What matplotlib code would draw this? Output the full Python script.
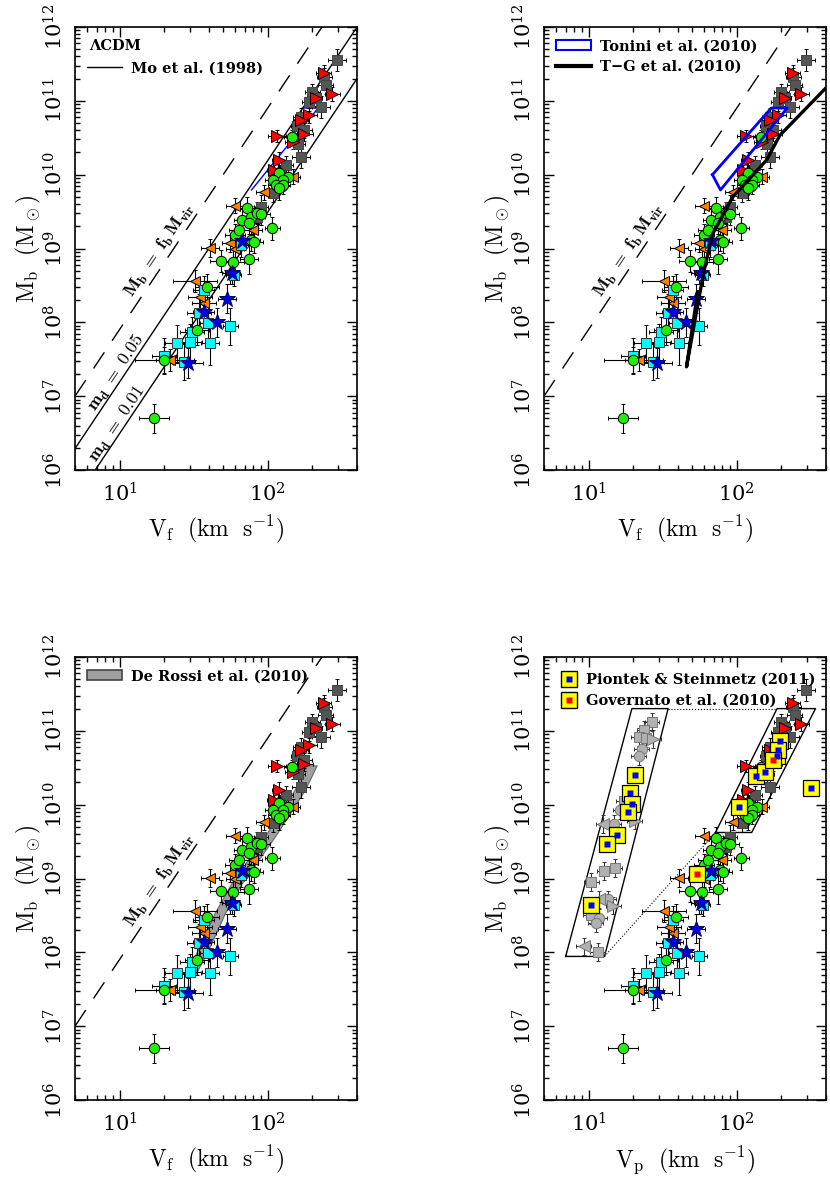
import numpy as np
import matplotlib.pyplot as plt
from matplotlib.lines import Line2D
from matplotlib.patches import Patch
from matplotlib.ticker import LogLocator, NullFormatter

plt.rcParams['mathtext.fontset'] = 'cm'
plt.rcParams['font.family'] = ['DejaVu Serif']

# observed galaxies (velocity in km/s, baryonic mass in Msun, errors in dex)
grey_v = [292, 240, 246, 200, 211, 190, 228, 167, 158, 176, 160, 167, 132, 108, 90, 85, 120]
grey_m = [3.6e11, 2.1e11, 1.64e11, 1.33e11, 1.08e11, 9.7e10, 8.3e10, 6.1e10, 4.5e10,
          4.0e10, 2.6e10, 1.75e10, 1.35e10, 5.6e9, 3.7e9, 2.7e9, 1.0e10]
grey_ev = [0.06, 0.05, 0.05, 0.05, 0.04, 0.05, 0.06, 0.05, 0.04, 0.05, 0.05, 0.06, 0.05, 0.05, 0.05, 0.05, 0.05]
grey_em = [0.15, 0.12, 0.12, 0.10, 0.10, 0.12, 0.15, 0.12, 0.10, 0.10, 0.12, 0.15, 0.12, 0.12, 0.15, 0.15, 0.12]

red_v = [238, 272, 211, 190, 167, 176, 116, 147, 119, 110]
red_m = [2.4e11, 1.24e11, 1.08e11, 6.4e10, 5.5e10, 3.6e10, 3.3e10, 2.8e10, 1.6e10, 1.15e10]
red_ev = [0.05, 0.05, 0.04, 0.05, 0.05, 0.06, 0.06, 0.05, 0.05, 0.05]
red_em = [0.10, 0.10, 0.10, 0.10, 0.10, 0.10, 0.08, 0.10, 0.10, 0.10]

green_v = [17, 20, 33.4, 39, 48, 58.6, 75, 60, 64, 67.5, 72, 77, 85, 75, 107, 77, 81,
           119, 136, 108, 126, 113, 126, 119, 145, 90]
green_m = [5.0e6, 3.1e7, 7.8e7, 3.0e8, 6.8e8, 6.5e8, 7.2e8, 1.5e9, 1.78e9, 2.4e9, 3.5e9,
           2.7e9, 3.0e9, 2.2e9, 1.87e9, 1.3e9, 1.23e9, 1.04e10, 9.4e9, 8.5e9, 8.5e9,
           7.2e9, 7.2e9, 6.5e9, 3.2e10, 2.9e9]
green_ev = [0.10, 0.20, 0.08, 0.08, 0.07, 0.07, 0.06, 0.07, 0.07, 0.06, 0.07, 0.06, 0.06,
            0.06, 0.05, 0.06, 0.06, 0.05, 0.05, 0.05, 0.05, 0.05, 0.05, 0.05, 0.05, 0.06]
green_em = [0.20, 0.18, 0.20, 0.18, 0.15, 0.18, 0.20, 0.15, 0.15, 0.15, 0.15, 0.15, 0.15,
            0.15, 0.15, 0.15, 0.15, 0.12, 0.12, 0.12, 0.15, 0.12, 0.12, 0.15, 0.10, 0.15]

orange_v = [60, 94, 147, 40.8, 56, 60, 79, 32.3, 37, 22, 56, 35]
orange_m = [3.8e9, 5.8e9, 9.4e9, 1.02e9, 1.17e9, 1.0e9, 1.78e9, 3.6e8, 1.8e8, 3.1e7, 4.6e8, 2.2e8]
orange_ev = [0.06, 0.05, 0.05, 0.06, 0.06, 0.06, 0.06, 0.15, 0.08, 0.10, 0.06, 0.08]
orange_em = [0.10, 0.10, 0.10, 0.12, 0.12, 0.12, 0.12, 0.15, 0.20, 0.15, 0.15, 0.15]

star_v = [67.5, 57.7, 52.8, 37, 45.7, 29]
star_m = [1.26e9, 4.7e8, 2.1e8, 1.39e8, 1.0e8, 2.8e7]
star_ev = [0.05, 0.05, 0.06, 0.07, 0.07, 0.10]
star_em = [0.12, 0.15, 0.20, 0.15, 0.20, 0.20]

cyan_v = [37, 34.4, 56, 39.8, 30.7, 29.9, 24.5, 40.8, 20, 27, 66, 59]
cyan_m = [2.7e8, 1.35e8, 8.9e7, 9.7e7, 7.4e7, 5.4e7, 5.2e7, 5.2e7, 3.5e7, 2.9e7, 1.1e9, 4.4e8]
cyan_ev = [0.07, 0.08, 0.05, 0.06, 0.08, 0.08, 0.08, 0.06, 0.08, 0.08, 0.05, 0.05]
cyan_em = [0.20, 0.25, 0.25, 0.30, 0.20, 0.25, 0.25, 0.30, 0.25, 0.25, 0.15, 0.15]

# simulations, panel 4
pion_v = [20.5, 19.1, 19.6, 18.5, 15.5, 13.4, 10.4, 315, 103, 134, 155, 197, 187, 190]
pion_m = [2.5e10, 1.44e10, 1.02e10, 8.0e9, 3.9e9, 2.9e9, 4.4e8, 1.7e10, 9.2e9, 2.46e10,
          2.8e10, 7.3e10, 4.6e10, 5.5e10]
gov_v = [54, 175]
gov_m = [1.15e9, 4.0e10]

light_sq_v = [26.8, 23.8, 21.8, 24.3, 15, 12.8, 10.4, 10.3, 11.5, 17.2]
light_sq_m = [1.33e11, 1.02e11, 8.2e10, 7.9e10, 1.4e9, 1.25e9, 8.9e8, 3.2e8, 1.0e8, 1.13e10]
light_ci_v = [22.8, 21.8, 14.8, 13.6, 11.8, 11.2, 16.3]
light_ci_m = [5.7e10, 4.6e10, 5.5e9, 5.2e8, 2.9e8, 2.5e8, 8.5e9]
light_tr_v = [27.3, 20.5, 14.7]
light_tr_m = [7.7e10, 6.1e9, 4.3e8]
light_tl_v = [12.6, 11.8, 9.25]
light_tl_m = [5.5e9, 5.2e8, 1.2e8]
light_ev = 0.05
light_em = 0.12

# model curves
vline = [5, 400]
fb_norm = 1.0e7          # Mb = fb Mvir at V = 5 km/s (slope 3)
md05_norm = 1.95e6       # m_d = 0.05
md01_norm = 3.9e5        # m_d = 0.01

tonini_v = [68.5, 77.6, 219, 171, 68.5]
tonini_m = [1.0e10, 6.2e9, 8.0e10, 8.0e10, 1.0e10]
tg_v = [54.5, 45.8, 59.8, 69, 94, 159, 195, 400]
tg_m = [2.6e8, 2.5e7, 4.8e8, 1.6e9, 5.0e9, 1.58e10, 3.4e10, 1.5e11]
derossi_v = [29.7, 36.5, 47.4, 61.5, 103, 164, 197]
derossi_m = [4.9e7, 1.07e8, 3.4e8, 8.6e8, 3.7e9, 1.58e10, 3.4e10]

boxL_v = [7.0, 12.8, 34.4, 19.6, 7.0]
boxL_m = [8.8e7, 8.8e7, 2.0e11, 2.0e11, 8.8e7]
boxR_v = [71.8, 126, 340, 187, 71.8]
boxR_m = [4.2e9, 4.2e9, 2.0e11, 2.0e11, 4.2e9]

xticks = [10, 100]
yticks = [1e6, 1e7, 1e8, 1e9, 1e10, 1e11, 1e12]


def dex(val, e):
    val = np.asarray(val, float)
    e = np.broadcast_to(np.asarray(e, float), val.shape)
    return [val - val * 10**(-e), val * 10**e - val]


def draw_data(ax):
    groups = [
        (grey_v, grey_m, grey_ev, grey_em, 's', 6.5, '#555555', '#444444'),
        (red_v, red_m, red_ev, red_em, '>', 8, 'red', 'black'),
        (orange_v, orange_m, orange_ev, orange_em, '<', 7.5, '#ff7f00', 'black'),
        (cyan_v, cyan_m, cyan_ev, cyan_em, 's', 7.5, 'cyan', '#333333'),
        (green_v, green_m, green_ev, green_em, 'o', 7.5, '#22ee00', 'black'),
        (star_v, star_m, star_ev, star_em, '*', 12, '#0000dd', '#000066'),
    ]
    for v, m, ev, em, mk, ms, fc, ec in groups:
        ax.errorbar(v, m, xerr=dex(v, ev), yerr=dex(m, em), fmt=mk, ms=ms, mfc=fc,
                    mec=ec, mew=0.7, ecolor='black', elinewidth=0.8, capsize=1.5,
                    capthick=0.8, zorder=3)


def style(ax, xlab):
    ax.set_xscale('log')
    ax.set_yscale('log')
    ax.set_xlim(5, 400)
    ax.set_ylim(1e6, 1e12)
    ax.set_xticks(xticks)
    ax.set_yticks(yticks)
    ax.xaxis.set_minor_locator(LogLocator(base=10, subs=np.arange(2, 10)))
    ax.yaxis.set_minor_locator(LogLocator(base=10, subs=np.arange(2, 10), numticks=20))
    ax.xaxis.set_minor_formatter(NullFormatter())
    ax.yaxis.set_minor_formatter(NullFormatter())
    ax.set_xlim(5, 400)
    ax.set_ylim(1e6, 1e12)
    ax.tick_params(which='both', direction='in', top=True, right=True, width=1)
    ax.tick_params(which='major', length=7, labelsize=15)
    ax.tick_params(which='minor', length=3.5)
    ax.tick_params(axis='x', pad=9)
    ax.tick_params(axis='y', pad=6)
    for lab in ax.get_yticklabels():
        lab.set_rotation(90)
        lab.set_va('center')
    for s in ax.spines.values():
        s.set_linewidth(1.2)
    ax.set_xlabel(xlab, fontsize=17, labelpad=6)
    ax.set_ylabel(r'$\mathrm{M_b\ \ (M_\odot)}$', fontsize=17, labelpad=0)


def fb_line(ax):
    vv = np.array(vline, float)
    ax.plot(vv, fb_norm * (vv / 5.0)**3, color='black', lw=1.0, dashes=(14, 10), zorder=2)
    ax.text(18.5, 9.5e8, r'$\mathbf{M_b\ =\ f_b\, M_{vir}}$', rotation=56, fontsize=13,
            ha='center', va='center', rotation_mode='anchor')


fig = plt.figure(figsize=(8.3, 11.86), dpi=100)
W, H = 830.0, 1186.0
pos = [(75, 27), (544, 27), (75, 657), (544, 657)]
axes = [fig.add_axes([x / W, 1 - (y + 443) / H, 282 / W, 443 / H]) for x, y in pos]
leg_kw = dict(frameon=False, prop=dict(size=10.5, weight='bold'), handlelength=2.4,
              handletextpad=0.6, loc='upper left', borderaxespad=0.45, labelspacing=0.45)

# panel 1
ax = axes[0]
draw_data(ax)
fb_line(ax)
vv = np.array(vline, float)
ax.plot(vv, md05_norm * (vv / 5.0)**3, color='black', lw=1.0, zorder=2)
ax.plot(vv, md01_norm * (vv / 5.0)**3, color='black', lw=1.0, zorder=2)
ax.plot(tonini_v[1:4], tonini_m[1:4], color='blue', lw=1.0, zorder=2)
ax.text(9.5, 2.1e7, r'$\mathbf{m_d\ =\ 0.05}$', rotation=56, fontsize=13,
        ha='center', va='center', rotation_mode='anchor')
ax.text(9.7, 4.2e6, r'$\mathbf{m_d\ =\ 0.01}$', rotation=56, fontsize=13,
        ha='center', va='center', rotation_mode='anchor')
ax.text(0.05, 0.972, 'ΛCDM', transform=ax.transAxes, fontsize=10.5, fontweight='bold',
        ha='left', va='top')
ax.legend([Line2D([], [], color='black', lw=1.0)], ['Mo et al. (1998)'],
          bbox_to_anchor=(0.0, 0.95), **leg_kw)
style(ax, r'$\mathrm{V_f\ \ (km\ \ s^{-1})}$')

# panel 2
ax = axes[1]
draw_data(ax)
fb_line(ax)
ax.plot(tonini_v, tonini_m, color='blue', lw=2.0, zorder=4)
ax.plot(tg_v, tg_m, color='black', lw=2.4, zorder=4)
ax.legend([Patch(facecolor='none', edgecolor='blue', lw=1.5),
           Line2D([], [], color='black', lw=3)],
          ['Tonini et al. (2010)', 'T\u2212G et al. (2010)'], **leg_kw)
style(ax, r'$\mathrm{V_f\ \ (km\ \ s^{-1})}$')

# panel 3
ax = axes[2]
fb_line(ax)
dv = np.array(derossi_v, float)
ax.fill_betweenx(derossi_m, dv * 10**-0.035, dv * 10**0.035, facecolor='#a0a0a0',
                 edgecolor='#666666', lw=0.8, zorder=2.5)
draw_data(ax)
ax.legend([Patch(facecolor='#a0a0a0', edgecolor='#444444', lw=1.2)],
          ['De Rossi et al. (2010)'], **leg_kw)
style(ax, r'$\mathrm{V_f\ \ (km\ \ s^{-1})}$')

# panel 4
ax = axes[3]
draw_data(ax)
ax.plot(boxL_v, boxL_m, color='black', lw=1.0, zorder=2)
ax.plot(boxR_v, boxR_m, color='black', lw=1.0, zorder=2)
ax.plot([boxL_v[2], boxR_v[3]], [boxL_m[2], boxR_m[3]], color='black', lw=0.8, ls=':', zorder=2)
ax.plot([boxL_v[1], boxR_v[0]], [boxL_m[1], boxR_m[0]], color='black', lw=0.8, ls=':', zorder=2)
light = [(light_sq_v, light_sq_m, 's', 6.5), (light_ci_v, light_ci_m, 'o', 7.5),
         (light_tr_v, light_tr_m, '>', 8), (light_tl_v, light_tl_m, '<', 8)]
for v, m, mk, ms in light:
    ax.errorbar(v, m, xerr=dex(v, light_ev), yerr=dex(m, light_em),
                fmt=mk, ms=ms, mfc='#b0b0b0', mec='#777777', mew=0.7, ecolor='#333333',
                elinewidth=0.8, capsize=1.5, zorder=3)
ax.plot(pion_v, pion_m, 's', ms=11, mfc='yellow', mec='black', mew=0.9, ls='none', zorder=5)
ax.plot(pion_v, pion_m, 's', ms=5, mfc='blue', mec='none', ls='none', zorder=6)
ax.plot(gov_v, gov_m, 's', ms=11, mfc='yellow', mec='black', mew=0.9, ls='none', zorder=5)
ax.plot(gov_v, gov_m, 's', ms=5, mfc='red', mec='none', ls='none', zorder=6)
h_p = (Line2D([], [], marker='s', ms=11, mfc='yellow', mec='black', ls='none'),
       Line2D([], [], marker='s', ms=5, mfc='blue', mec='none', ls='none'))
h_g = (Line2D([], [], marker='s', ms=11, mfc='yellow', mec='black', ls='none'),
       Line2D([], [], marker='s', ms=5, mfc='red', mec='none', ls='none'))
kw4 = dict(leg_kw)
kw4['handlelength'] = 1.2
kw4['borderaxespad'] = 0.7
ax.legend([h_p, h_g], ['Piontek & Steinmetz (2011)', 'Governato et al. (2010)'], **kw4)
style(ax, r'$\mathrm{V_p\ \ (km\ \ s^{-1})}$')

fig.savefig('out.png', dpi=100)
